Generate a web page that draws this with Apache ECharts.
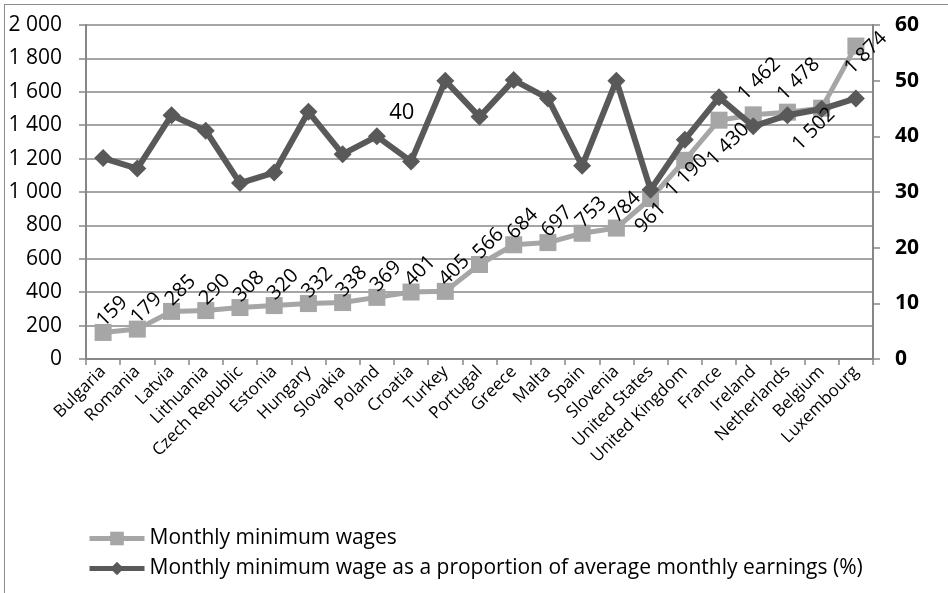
<!DOCTYPE html>
<html>
<head>
<meta charset="utf-8">
<script src="https://cdn.jsdelivr.net/npm/echarts@6/dist/echarts.min.js"></script>
<style>
  html, body { margin: 0; padding: 0; background: #fff; overflow: hidden; }
  #frame {
    position: absolute; left: 4px; top: 4px; width: 1000px; height: 1000px;
    border-left: 1.5px solid #8c8c8c; border-top: 1.5px solid #8c8c8c;
  }
  #chart { position: absolute; left: 0; top: 0; width: 948px; height: 593px; }
</style>
</head>
<body>
<div id="frame"></div>
<div id="chart"></div>
<script>
// values
const countries = ['Bulgaria', 'Romania', 'Latvia', 'Lithuania', 'Czech Republic', 'Estonia', 'Hungary',
  'Slovakia', 'Poland', 'Croatia', 'Turkey', 'Portugal', 'Greece', 'Malta', 'Spain', 'Slovenia',
  'United States', 'United Kingdom', 'France', 'Ireland', 'Netherlands', 'Belgium', 'Luxembourg'];
const wages = [159, 179, 285, 290, 308, 320, 332, 338, 369, 401, 405, 566, 684, 697, 753, 784,
  961, 1190, 1430, 1462, 1478, 1502, 1874];
const shares = [36.1, 34.2, 43.8, 41, 31.6, 33.5, 44.4, 36.8, 40, 35.5, 50, 43.5, 50.1, 46.8, 34.7, 50,
  30.4, 39.4, 47, 41.8, 43.8, 44.9, 46.8];
const wageTicks = [0, 200, 400, 600, 800, 1000, 1200, 1400, 1600, 1800, 2000];
const shareTicks = [0, 10, 20, 30, 40, 50, 60];

const seriesNames = ['Monthly minimum wages',
  'Monthly minimum wage as a proportion of average monthly earnings (%)'];

// where the rotated wage labels sit (pixels from the marker to the label centre)
const defaultShift = [9, -21];
const labelShift = {
  'United States': [0, 19],
  'United Kingdom': [2, 15],
  'France': [9, 24],
  'Ireland': [6, -36],
  'Netherlands': [11, -33],
  'Belgium': [-8, 21],
  'Luxembourg': [10, 7]
};

function spaced(v) {
  return String(v).replace(/\B(?=(\d{3})+(?!\d))/g, ' ');
}

const shareData = shares.map((v, i) => {
  if (countries[i] === 'Poland') {
    return { value: v, label: { show: true, offset: [25, -24] } };
  }
  return v;
});

const gridColor = '#878787';
const myChart = echarts.init(document.getElementById('chart'));

const option = {
  animation: false,
  textStyle: { fontFamily: 'Open Sans' },
  grid: { left: 86, right: 75, top: 25, bottom: 234, containLabel: false },
  legend: {
    orient: 'vertical',
    left: 82,
    top: 523,
    itemWidth: 55,
    itemHeight: 17,
    itemGap: 9,
    data: seriesNames,
    lineStyle: { width: 5 },
    textStyle: { color: '#000', fontSize: 21, fontFamily: 'Open Sans' }
  },
  xAxis: {
    type: 'category',
    data: countries,
    boundaryGap: true,
    axisLine: { lineStyle: { color: gridColor, width: 2 } },
    axisTick: { show: true, length: 6, lineStyle: { color: gridColor, width: 1.5 } },
    axisLabel: { rotate: 45, interval: 0, margin: 10, color: '#000', fontSize: 17 },
    splitLine: { show: false }
  },
  yAxis: [
    {
      type: 'value',
      min: wageTicks[0],
      max: wageTicks[wageTicks.length - 1],
      interval: wageTicks[1] - wageTicks[0],
      axisLine: { show: true, lineStyle: { color: gridColor, width: 2 } },
      axisTick: { show: true, length: 7, lineStyle: { color: gridColor, width: 1.5 } },
      axisLabel: { color: '#000', fontSize: 21, margin: 24, formatter: v => spaced(v) },
      splitLine: { show: true, lineStyle: { color: gridColor, width: 1.5 } }
    },
    {
      type: 'value',
      position: 'right',
      min: shareTicks[0],
      max: shareTicks[shareTicks.length - 1],
      interval: shareTicks[1] - shareTicks[0],
      axisLine: { show: true, lineStyle: { color: gridColor, width: 2 } },
      axisTick: { show: true, length: 7, lineStyle: { color: gridColor, width: 1.5 } },
      axisLabel: { color: '#000', fontSize: 21, fontWeight: 'bold', margin: 22 },
      splitLine: { show: false }
    }
  ],
  series: [
    {
      name: seriesNames[0],
      type: 'line',
      yAxisIndex: 0,
      data: wages,
      color: '#a6a6a6',
      symbol: 'rect',
      symbolSize: 17,
      lineStyle: { width: 5, color: '#a6a6a6' },
      itemStyle: { color: '#a6a6a6' },
      z: 2
    },
    {
      name: seriesNames[1],
      type: 'line',
      yAxisIndex: 1,
      data: shareData,
      color: '#595959',
      symbol: 'diamond',
      symbolSize: 18,
      lineStyle: { width: 6, color: '#595959' },
      itemStyle: { color: '#595959' },
      z: 3,
      label: {
        show: false,
        position: 'inside',
        color: '#000',
        fontSize: 22,
        formatter: p => String(Math.round(p.value))
      }
    },
    {
      // rotated value labels of the wage line
      name: 'wage labels',
      type: 'custom',
      yAxisIndex: 0,
      z: 4,
      silent: true,
      data: wages.map((v, i) => [i, v]),
      renderItem: (params, api) => {
        const i = params.dataIndex;
        const pt = api.coord([api.value(0), api.value(1)]);
        const s = labelShift[countries[i]] || defaultShift;
        return {
          type: 'text',
          x: pt[0] + s[0],
          y: pt[1] + s[1],
          rotation: Math.PI / 4,
          style: {
            text: spaced(api.value(1)),
            fill: '#000',
            fontSize: 20,
            fontFamily: 'Open Sans',
            align: 'center',
            verticalAlign: 'middle'
          }
        };
      }
    }
  ]
};
myChart.setOption(option);
window.onresize = myChart.resize;
</script>
</body>
</html>
